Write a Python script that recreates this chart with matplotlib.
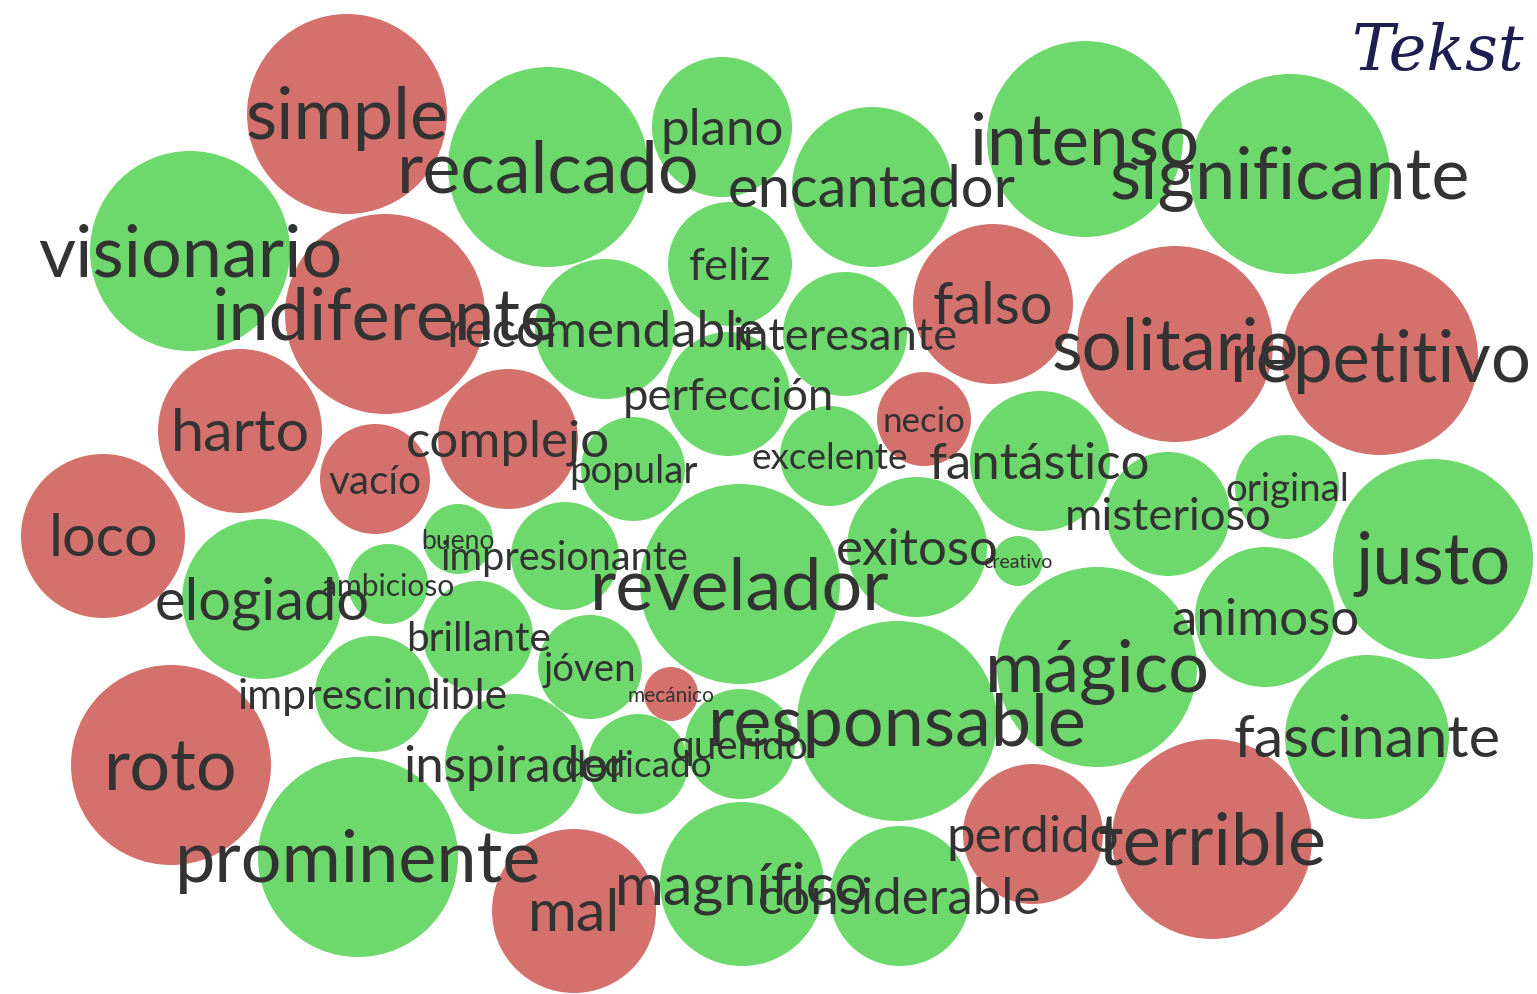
import matplotlib.pyplot as plt
from matplotlib.patches import Circle

# word, sentiment and frequency of each bubble
words = ["simple", "recalcado", "plano", "encantador", "intenso", "significante",
         "visionario", "indiferente", "feliz", "recomendable", "interesante", "falso",
         "solitario", "repetitivo", "perfección", "harto", "complejo", "necio",
         "vacío", "popular", "excelente", "fantástico", "original", "misterioso",
         "loco", "bueno", "impresionante", "revelador", "exitoso", "creativo",
         "justo", "elogiado", "ambicioso", "brillante", "animoso", "mágico",
         "jóven", "imprescindible", "mecánico", "responsable", "roto", "fascinante",
         "querido", "inspirador", "dedicado", "prominente", "perdido", "terrible",
         "mal", "magnífico", "considerable"]
sentiment = ["neg", "pos", "pos", "pos", "pos", "pos",
             "pos", "neg", "pos", "pos", "pos", "neg",
             "neg", "neg", "pos", "neg", "neg", "neg",
             "neg", "pos", "pos", "pos", "pos", "pos",
             "neg", "pos", "pos", "pos", "pos", "pos",
             "pos", "pos", "pos", "pos", "pos", "pos",
             "pos", "pos", "neg", "pos", "neg", "pos",
             "pos", "pos", "pos", "pos", "neg", "neg",
             "neg", "pos", "pos"]
frequency = [10.0, 10.0, 7.0, 8.0, 9.8, 10.0,
             10.0, 10.0, 6.2, 7.0, 6.2, 8.0,
             9.8, 9.8, 6.2, 8.2, 7.0, 4.7,
             5.5, 5.2, 5.0, 7.0, 5.2, 6.2,
             8.2, 3.5, 5.4, 10.0, 7.0, 2.5,
             10.0, 8.0, 4.0, 5.5, 7.0, 10.0,
             5.2, 5.8, 2.7, 10.0, 10.0, 8.2,
             5.5, 7.0, 5.0, 10.0, 7.0, 10.0,
             8.2, 8.2, 7.0]

# packed layout (bubble centres in pixels)
pos_x = [347, 548, 722, 872, 1085, 1290,
         190, 385, 730, 605, 845, 993,
         1175, 1380, 728, 240, 508, 924,
         375, 633, 830, 1040, 1287, 1168,
         103, 458, 565, 740, 917, 1018,
         1433, 262, 388, 478, 1265, 1097,
         590, 373, 671, 897, 171, 1367,
         740, 515, 638, 358, 1033, 1212,
         574, 742, 900]
pos_y = [115, 168, 128, 188, 140, 175,
         252, 315, 265, 330, 335, 305,
         345, 358, 395, 432, 440, 420,
         480, 470, 457, 462, 488, 515,
         537, 540, 557, 585, 548, 562,
         560, 600, 585, 637, 618, 668,
         668, 695, 695, 722, 766, 738,
         745, 765, 765, 858, 835, 840,
         912, 885, 897]

GREEN = "#6dd96c"
RED = "#d4716d"
TEXT = "#333333"

fig = plt.figure(figsize=(15.37, 9.95), dpi=100)
ax = fig.add_axes([0, 0, 1, 1])
ax.set_xlim(0, 1537)
ax.set_ylim(995, 0)
ax.set_aspect("equal")
ax.axis("off")

for s, f, x, y in zip(sentiment, frequency, pos_x, pos_y):
    r = f * 10
    ax.add_patch(Circle((x, y), r, color=GREEN if s == "pos" else RED, lw=0, zorder=1))

for w, f, x, y in zip(words, frequency, pos_x, pos_y):
    em = 0.7 * f * 10 + 2  # font size in px
    ax.text(x, y + em * 0.05, w, fontsize=em * 0.72, family="Lato", color=TEXT,
            ha="center", va="center", zorder=2)

# logo, top right
ax.text(1352, 70, "Tekst", fontsize=46, family="DejaVu Serif", style="italic",
        weight="light", color="#1e1e50", ha="left", va="baseline", zorder=3)

fig.savefig("out.png", dpi=100)
